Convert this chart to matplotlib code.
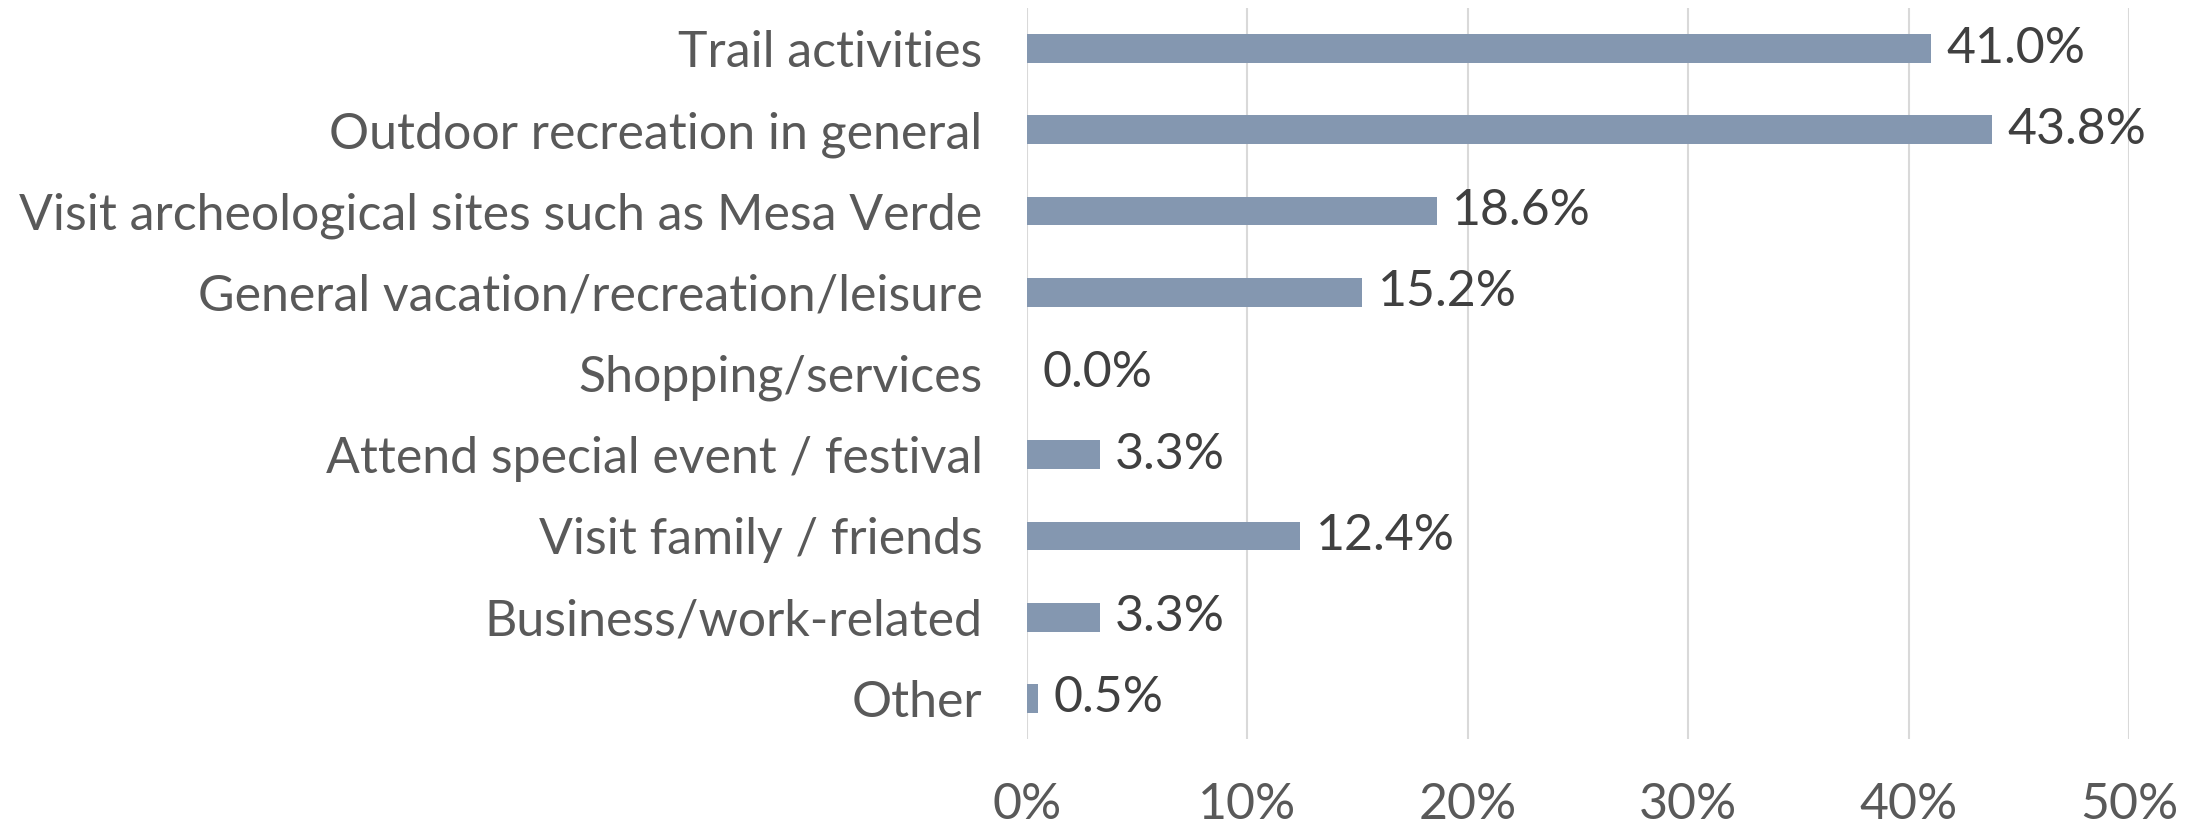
import numpy as np
import matplotlib.pyplot as plt

# data
categories = [
    "Trail activities",
    "Outdoor recreation in general",
    "Visit archeological sites such as Mesa Verde",
    "General vacation/recreation/leisure",
    "Shopping/services",
    "Attend special event / festival",
    "Visit family / friends",
    "Business/work-related",
    "Other",
]
values = [41.0, 43.8, 18.6, 15.2, 0.0, 3.3, 12.4, 3.3, 0.5]
ticks = [0, 10, 20, 30, 40, 50]

BAR_COLOR = "#8497B0"
GRID_COLOR = "#D9D9D9"
LABEL_COLOR = "#595959"
VALUE_COLOR = "#404040"

plt.rcParams['font.family'] = ['Lato', 'DejaVu Sans']

fig = plt.figure(figsize=(22.06, 8.24), dpi=100)
ax = fig.add_axes([1027 / 2206, 1 - 739 / 824, 1102 / 2206, 731 / 824])

y = np.arange(len(categories))
ax.barh(y, values, height=0.355, color=BAR_COLOR, zorder=3)

for yi, v in zip(y, values):
    ax.text(v + 0.7, yi, f"{v:.1f}%", va='center', ha='left',
            fontsize=36, color=VALUE_COLOR)

ax.set_ylim(len(categories) - 0.5, -0.5)
ax.set_xlim(0, 50)
ax.set_yticks(y)
ax.set_yticklabels(categories, fontsize=36, color=LABEL_COLOR)
ax.set_xticks(ticks)
ax.set_xticklabels([f"{t}%" for t in ticks], fontsize=36, color=LABEL_COLOR)
ax.tick_params(axis='y', length=0, pad=32)
ax.tick_params(axis='x', length=0, pad=31)

ax.grid(axis='x', color=GRID_COLOR, linewidth=1.5, zorder=0)
for s in ax.spines.values():
    s.set_visible(False)

fig.savefig("out.png", dpi=100)
